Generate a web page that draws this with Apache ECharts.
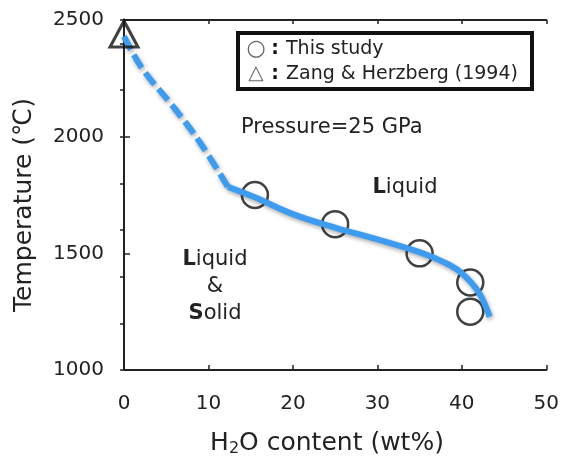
<!DOCTYPE html>
<html><head><meta charset="utf-8">
<script src="https://cdn.jsdelivr.net/npm/echarts@6/dist/echarts.min.js"></script>
<style>html,body{margin:0;padding:0;background:#fff}#c{width:562px;height:459px}</style>
</head><body><div id="c"></div>
<script>
// data
const xTicks = [0, 10, 20, 30, 40, 50];
const yTicks = [1000, 1500, 2000, 2500];
const thisStudy = [[15.5, 1750], [25, 1625], [35, 1500], [41, 1375], [41, 1250]];
const zangHerzberg = [[0, 2440]];
const dashedCurve = [[0, 2430], [2.2, 2290], [5.8, 2130], [9, 1975], [12.3, 1785]];
const solidCurve = [[12.3, 1785], [15.5, 1740], [20, 1668], [25, 1610], [30, 1560], [35, 1505], [38, 1460], [40, 1415], [42, 1333], [43.3, 1228]];

const chart = echarts.init(document.getElementById('c'));
const FONT = 'DejaVu Sans';
const TXT = '#222';
const lineColor = '#3d9cf0';
const shadow = {shadowBlur: 4, shadowColor: 'rgba(0,0,0,0.35)', shadowOffsetX: 1, shadowOffsetY: 2};
chart.setOption({
  animation: false,
  grid: {left: 124, top: 20, right: 14, bottom: 89},
  xAxis: [{
    type: 'value', min: 0, max: 50, interval: 10,
    axisLine: {lineStyle: {color: '#222', width: 2}},
    axisTick: {inside: true, length: 5, lineStyle: {color: '#222', width: 1.5}},
    axisLabel: {fontFamily: FONT, fontSize: 20, color: TXT, margin: 24},
    splitLine: {show: false}
  }, {
    type: 'value', min: 0, max: 50, interval: 10, position: 'top',
    axisLine: {show: true, lineStyle: {color: '#222', width: 2}},
    axisTick: {inside: true, length: 4, lineStyle: {color: '#222', width: 1.5}},
    axisLabel: {show: false}, splitLine: {show: false}
  }],
  yAxis: [{
    type: 'value', min: 1000, max: 2500, interval: 500,
    axisLine: {show: true, lineStyle: {color: '#222', width: 2}},
    axisTick: {show: true, inside: true, length: 6, lineStyle: {color: '#222', width: 1.5}},
    axisLabel: {fontFamily: FONT, fontSize: 20, color: TXT, margin: 20, formatter: v => String(v)},
    splitLine: {show: false}
  }, {
    type: 'value', min: 1000, max: 2500, interval: 200, position: 'right',
    axisLine: {show: true, lineStyle: {color: '#222', width: 2}},
    axisTick: {show: true, inside: true, length: 4, lineStyle: {color: '#222', width: 1.5}},
    axisLabel: {show: false}, splitLine: {show: false}
  }],
  series: [{
    type: 'scatter', data: thisStudy, symbol: 'circle', symbolSize: 26, z: 2,
    itemStyle: {color: 'rgba(0,0,0,0)', borderColor: '#111', borderWidth: 2.5}
  }, {
    type: 'line', data: dashedCurve, smooth: 0.4, showSymbol: false, z: 3,
    lineStyle: Object.assign({color: lineColor, width: 6, type: [15, 6]}, shadow)
  }, {
    type: 'line', data: solidCurve, smooth: 0.4, showSymbol: false, z: 3,
    lineStyle: Object.assign({color: lineColor, width: 6}, shadow)
  }, {
    type: 'scatter', data: zangHerzberg, symbol: 'triangle', symbolSize: [28, 26], z: 4,
    itemStyle: {color: 'rgba(0,0,0,0)', borderColor: '#111', borderWidth: 3}
  }],
  graphic: [
    {type: 'text', x: 24, y: 205, rotation: Math.PI / 2, z: 11, style: {text: 'Temperature (℃)', fontFamily: FONT, fontSize: 25, fill: TXT, align: 'center', verticalAlign: 'middle'}},
    {type: 'text', x: 327, y: 443, z: 11, style: {text: '{a|H}{s|2}{a|O content (wt%)}', align: 'center', verticalAlign: 'middle',
      rich: {a: {fontFamily: FONT, fontSize: 25, fill: TXT}, s: {fontFamily: FONT, fontSize: 16, fill: TXT, padding: [12, 0, 0, 0]}}}},
    {type: 'rect', shape: {x: 238, y: 33, width: 294, height: 56}, style: {fill: '#fff', stroke: '#111', lineWidth: 4}, z: 10},
    {type: 'text', x: 256, y: 49, z: 11, style: {text: '○', fontFamily: FONT, fontSize: 22, fill: '#666', align: 'center', verticalAlign: 'middle'}},
    {type: 'text', x: 256, y: 74, z: 11, style: {text: '△', fontFamily: FONT, fontSize: 20, fill: '#666', align: 'center', verticalAlign: 'middle'}},
    {type: 'text', x: 275, y: 49, z: 11, style: {text: ':', fontFamily: FONT, fontWeight: 'bold', fontSize: 19, fill: '#111', align: 'center', verticalAlign: 'middle'}},
    {type: 'text', x: 275, y: 74, z: 11, style: {text: ':', fontFamily: FONT, fontWeight: 'bold', fontSize: 19, fill: '#111', align: 'center', verticalAlign: 'middle'}},
    {type: 'text', x: 286, y: 49, z: 11, style: {text: 'This study', fontFamily: FONT, fontSize: 19, fill: TXT, verticalAlign: 'middle'}},
    {type: 'text', x: 286, y: 74, z: 11, style: {text: 'Zang & Herzberg (1994)', fontFamily: FONT, fontSize: 19, fill: TXT, verticalAlign: 'middle'}},
    {type: 'text', x: 241, y: 128, z: 11, style: {text: 'Pressure=25 GPa', fontFamily: FONT, fontSize: 21, fill: TXT, verticalAlign: 'middle'}},
    {type: 'text', x: 405, y: 188, z: 11, style: {text: '{b|L}iquid', fontFamily: FONT, fontSize: 21, fill: TXT, align: 'center', verticalAlign: 'middle',
      rich: {b: {fontWeight: 'bold', fontFamily: FONT, fontSize: 21, fill: TXT}}}},
    {type: 'text', x: 215, y: 287, z: 11, style: {text: '{b|L}iquid\n&\n{b|S}olid', fontFamily: FONT, fontSize: 21, fill: TXT, align: 'center', verticalAlign: 'middle', lineHeight: 27,
      rich: {b: {fontWeight: 'bold', fontFamily: FONT, fontSize: 21, fill: TXT}}}}
  ]
});
</script></body></html>
